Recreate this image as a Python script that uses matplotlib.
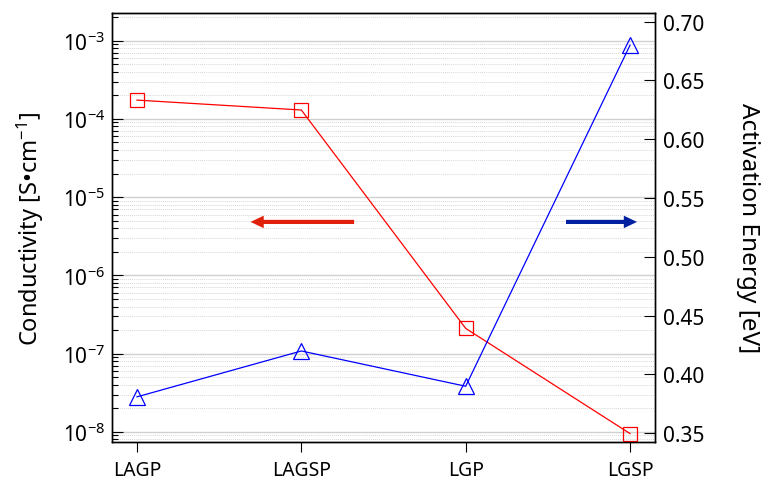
import matplotlib
matplotlib.use('Agg')
import matplotlib.pyplot as plt
import numpy as np

plt.rcParams['font.family'] = ['Noto Sans', 'DejaVu Sans']
plt.rcParams['mathtext.fontset'] = 'custom'
plt.rcParams['mathtext.rm'] = 'Noto Sans'
plt.rcParams['mathtext.it'] = 'Noto Sans'
plt.rcParams['axes.unicode_minus'] = False

materials = ['LAGP', 'LAGSP', 'LGP', 'LGSP']
conductivity = [1.74e-4, 1.30e-4, 2.1e-7, 9.5e-9]   # S/cm
activation = [0.381, 0.420, 0.390, 0.680]           # eV

x = np.arange(len(materials))

fig = plt.figure(figsize=(7.61, 4.81), dpi=100)
ax = fig.add_axes([0.1472, 0.079, 0.7135, 0.8919])
ax2 = ax.twinx()

# conductivity, log scale, left axis
ax.set_yscale('log')
ax.set_ylim(10**-8.13, 10**-2.646)
ax.set_xlim(-0.152, 3.152)
ax.grid(True, which='major', axis='y', color='#d0d0d0', lw=1.0, ls='-')
ax.grid(True, which='minor', axis='y', color='#d8d8d8', lw=0.7, ls=(0, (1, 1)))
ax.set_axisbelow(True)
ax.plot(x, conductivity, color='red', lw=0.9, marker='s', ms=10,
        mfc='none', mec='red', mew=0.9, zorder=3)

# activation energy, right axis
ax2.set_ylim(0.3426, 0.7074)
ax2.plot(x, activation, color='blue', lw=0.9, marker='^', ms=11,
         mfc='none', mec='blue', mew=0.9, zorder=3)
ax2.set_yticks([0.35, 0.40, 0.45, 0.50, 0.55, 0.60, 0.65, 0.70])
ax2.set_yticklabels(['%.2f' % v for v in ax2.get_yticks()])

decades = [-8, -7, -6, -5, -4, -3]
ax.set_yticks([10.0**d for d in decades])
ax.set_yticklabels([r'10$^{%d}$' % d for d in decades])

ax.set_xticks(x)
ax.set_xticklabels(materials, fontsize=14)
ax.tick_params(axis='x', direction='out', length=7, width=0.8, pad=6, top=False)
ax.tick_params(axis='y', which='major', direction='in', length=8, width=0.8,
               labelsize=15, pad=5)
ax.tick_params(axis='y', which='minor', direction='in', length=4, width=0.8)
ax.yaxis.set_minor_locator(matplotlib.ticker.LogLocator(base=10, subs=np.arange(2, 10)))
ax.yaxis.set_minor_formatter(matplotlib.ticker.NullFormatter())
ax2.tick_params(axis='y', direction='in', length=8, width=0.8, labelsize=15, pad=6)

for a in (ax, ax2):
    for s in a.spines.values():
        s.set_linewidth(1.0)

ax.set_ylabel('Conductivity [S•cm$^{-1}$]', fontsize=17, labelpad=12)
ax2.set_ylabel('Activation Energy [eV]', fontsize=17.5, rotation=270, labelpad=40)

# direction arrows pointing to each axis
ax.annotate('', xy=(0.250, 0.513), xytext=(0.451, 0.513), xycoords='axes fraction',
            arrowprops=dict(arrowstyle='simple,head_width=0.9,head_length=0.95,tail_width=0.3',
                            color='#e0200a', lw=0, mutation_scale=10))
ax.annotate('', xy=(0.972, 0.513), xytext=(0.831, 0.513), xycoords='axes fraction',
            arrowprops=dict(arrowstyle='simple,head_width=0.9,head_length=0.95,tail_width=0.3',
                            color='#0020a0', lw=0, mutation_scale=10))

fig.savefig('out.png', dpi=100)
